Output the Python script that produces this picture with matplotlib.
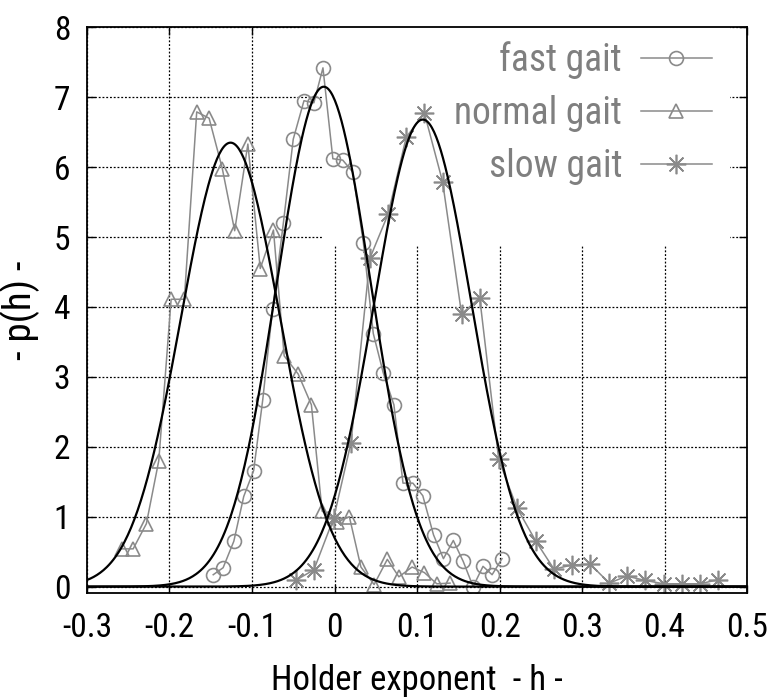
import numpy as np
import matplotlib
matplotlib.use('Agg')
from matplotlib import pyplot as plt
from matplotlib import font_manager
from matplotlib.patches import Rectangle

# the original uses a narrow sans face; take a condensed one if installed
installed = {f.name for f in font_manager.fontManager.ttflist}
narrow = None
for fam in ['Liberation Sans Narrow', 'Arial Narrow', 'DejaVu Sans Condensed',
            'Roboto Condensed', 'Open Sans Condensed', 'Noto Sans Condensed']:
    if fam in installed:
        narrow = fam
        break
if narrow is None:
    plt.rcParams['font.family'] = ['Liberation Sans', 'DejaVu Sans']
    shrink = 0.86
else:
    plt.rcParams['font.family'] = [narrow, 'Liberation Sans', 'DejaVu Sans']
    shrink = 1.0

# measured histograms of the Holder exponent
fast_h = [-0.147, -0.135, -0.122, -0.110, -0.098, -0.087, -0.075, -0.062, -0.050, -0.037,
          -0.025, -0.014, -0.002, 0.010, 0.022, 0.035, 0.047, 0.059, 0.072, 0.083,
          0.095, 0.107, 0.120, 0.132, 0.144, 0.156, 0.168, 0.180, 0.191, 0.203]
fast_p = [0.17, 0.27, 0.65, 1.29, 1.66, 2.67, 3.97, 5.20, 6.40, 6.95,
          6.92, 7.42, 6.12, 6.10, 5.93, 4.92, 3.62, 3.06, 2.60, 1.48,
          1.48, 1.30, 0.74, 0.40, 0.66, 0.36, 0.0, 0.29, 0.17, 0.40]

normal_h = [-0.258, -0.244, -0.228, -0.213, -0.198, -0.182, -0.167, -0.152, -0.136, -0.121,
            -0.105, -0.090, -0.074, -0.061, -0.044, -0.028, -0.015, 0.003, 0.018, 0.032,
            0.048, 0.064, 0.078, 0.094, 0.109, 0.124, 0.140]
normal_p = [0.54, 0.54, 0.90, 1.80, 4.11, 4.11, 6.79, 6.70, 5.98, 5.09,
            6.33, 4.55, 5.10, 3.30, 3.04, 2.60, 1.08, 0.92, 1.00, 0.28,
            0.03, 0.39, 0.14, 0.28, 0.20, 0.04, 0.05]

slow_h = [-0.047, -0.025, -0.001, 0.020, 0.043, 0.065, 0.087, 0.109, 0.131, 0.154,
          0.176, 0.199, 0.221, 0.244, 0.266, 0.288, 0.310, 0.333, 0.354, 0.376,
          0.399, 0.421, 0.443, 0.465]
slow_p = [0.09, 0.24, 0.98, 2.06, 4.70, 5.33, 6.43, 6.77, 5.79, 3.90,
          4.13, 1.82, 1.13, 0.65, 0.25, 0.31, 0.32, 0.05, 0.15, 0.09,
          0.04, 0.04, 0.04, 0.10]

# gaussian fits (normal, fast, slow): centre, width, peak
fit_centre = [-0.126, -0.013, 0.107]
fit_width = [0.060, 0.057, 0.059]
fit_peak = [6.35, 7.15, 6.68]

x_ticks = [-0.3, -0.2, -0.1, 0, 0.1, 0.2, 0.3, 0.4, 0.5]
x_ticklabels = ['-0.3', '-0.2', '-0.1', '0', '0.1', '0.2', '0.3', '0.4', '0.5']
y_ticks = [0, 1, 2, 3, 4, 5, 6, 7, 8]

grey = '#8a8a8a'

fig = plt.figure(figsize=(7.67, 7.0), dpi=100)
ax = fig.add_axes([0.1134, 0.153, 0.8606, 0.808])

ax.plot(fast_h, fast_p, color=grey, lw=1.1, marker='o', ms=10,
        mfc='none', mec=grey, mew=1.2, label='fast gait', zorder=2)
ax.plot(normal_h, normal_p, color=grey, lw=1.1, marker='^', ms=10,
        mfc='none', mec=grey, mew=1.2, label='normal gait', zorder=2)
ax.plot(slow_h, slow_p, color=grey, lw=1.1, marker=(8, 2, 0), ms=14,
        mec=grey, mew=1.2, label='slow gait', zorder=2)

h = np.linspace(-0.3, 0.5, 600)
for c, w, a in zip(fit_centre, fit_width, fit_peak):
    ax.plot(h, a * np.exp(-(h - c) ** 2 / (2 * w ** 2)), color='black', lw=1.6, zorder=3)

ax.set_xlim(-0.3, 0.5)
ax.set_ylim(-0.09, 8)
ax.set_xticks(x_ticks)
ax.set_xticklabels(x_ticklabels)
ax.set_yticks(y_ticks)
ax.tick_params(direction='in', top=True, right=True, length=6, width=1,
               labelsize=24 * shrink)
ax.tick_params(axis='x', pad=14)
ax.tick_params(axis='y', pad=12)

ax.set_axisbelow(True)
ax.grid(True, color='black', linestyle=(0, (1.5, 1.5)), lw=0.9)
# opaque key box hides the grid behind it
ax.add_patch(Rectangle((0.358, 0.615), 0.616, 0.385, transform=ax.transAxes,
                       facecolor='white', edgecolor='none', zorder=1))

for s in ax.spines.values():
    s.set_linewidth(1.3)

ax.set_xlabel('Holder exponent  - h -', fontsize=25 * shrink, labelpad=14)
ax.set_ylabel('- p(h) -', fontsize=28 * shrink, labelpad=10)

ax.legend(loc='upper right', bbox_to_anchor=(0.947, 0.975), frameon=False,
          markerfirst=False, fontsize=27 * shrink, labelcolor='#7f7f7f',
          handlelength=1.9 / shrink, handletextpad=0.5 / shrink,
          labelspacing=0.42 / shrink, borderpad=0, borderaxespad=0)

plt.savefig('out.png', dpi=100)
